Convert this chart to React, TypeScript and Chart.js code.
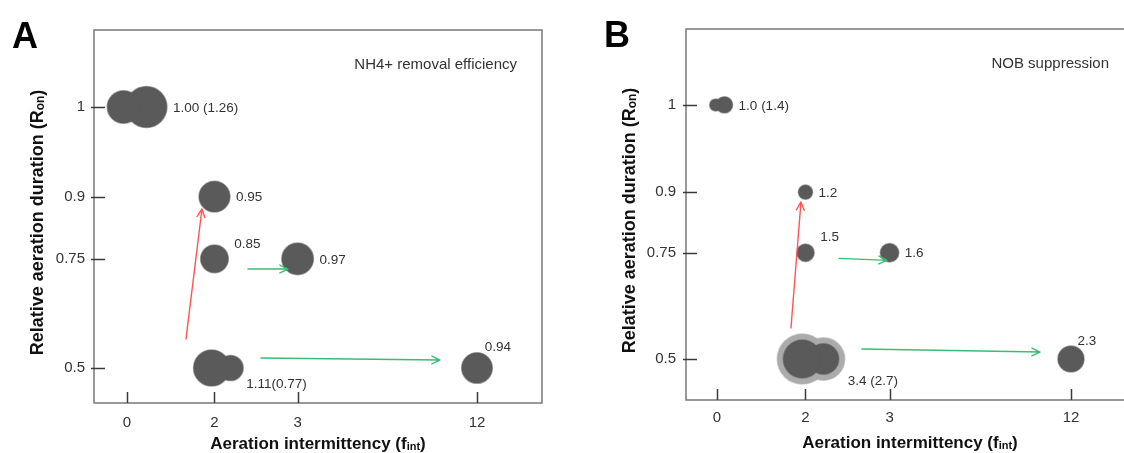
import React, { useEffect, useRef } from 'react';
import { Chart, registerables } from 'chart.js';

Chart.register(...registerables);

const FONT = "'Liberation Sans', Arial, Helvetica, sans-serif";
const CANVAS_H = 453;

// ---------------- data ----------------
const xTickLabels = ['0', '2', '3', '12'];
const yTickLabels = ['1', '0.9', '0.75', '0.5'];

// Panel A – NH4+ removal efficiency
const aIntermittency = [0, 2, 2, 3, 2, 12];
const aDuration = [1, 0.9, 0.75, 0.75, 0.5, 0.5];
const aEfficiency = [1.0, 0.95, 0.85, 0.97, 1.11, 0.94];
const aEfficiencyPaired: (number | null)[] = [1.26, null, null, null, 0.77, null];
const aValueLabels = ['1.00 (1.26)', '0.95', '0.85', '0.97', '1.11(0.77)', '0.94'];

// Panel B – NOB suppression
const bIntermittency = [0, 2, 2, 3, 2, 12];
const bDuration = [1, 0.9, 0.75, 0.75, 0.5, 0.5];
const bSuppression = [1.0, 1.2, 1.5, 1.6, 3.4, 2.3];
const bSuppressionPaired: (number | null)[] = [1.4, null, null, null, 2.7, null];
const bValueLabels = ['1.0 (1.4)', '1.2', '1.5', '1.6', '3.4 (2.7)', '2.3'];

// ---------------- axis layout (where each category sits on its axis) ----------------
const X_SLOT: Record<string, number> = { '0': 0, '2': 1, '3': 1.95, '12': 4 };
const Y_SLOT: Record<string, number> = { '1': 3, '0.9': 1.97, '0.75': 1.255, '0.5': 0 };

// ---------------- styles ----------------
const BUBBLE = '#5a5a5a';
const BUBBLE_EDGE = 'rgba(90,90,90,0.55)';
const HALO = '#ababab';
const HALO_W = 6;
const RED = '#ff5454';
const GREEN = '#3cbc72';
const FRAME = '#808080';
const TEXT = '#333333';

type Arrow = { from: [number, number]; to: [number, number]; color: string };

// annotation arrows, in axis units
const aArrows: Arrow[] = [
  { from: [0.674, 0.333], to: [0.857, 1.828], color: RED },
  { from: [1.383, 1.138], to: [1.84, 1.138], color: GREEN },
  { from: [1.531, 0.115], to: [3.577, 0.092], color: GREEN },
];
const bArrows: Arrow[] = [
  { from: [0.836, 0.366], to: [0.949, 1.854], color: RED },
  { from: [1.379, 1.188], to: [1.921, 1.165], color: GREEN },
  { from: [1.638, 0.118], to: [3.65, 0.082], color: GREEN },
];

interface PanelCfg {
  letter: string;
  note: string;
  xs: number[];
  ys: number[];
  vals: number[];
  paired: (number | null)[];
  labels: string[];
  placement: string[];
  halo: number[];
  radius: (v: number) => number;
  arrows: Arrow[];
  canvasW: number;
  area: { left: number; top: number; right: number; bottom: number };
  xRange: [number, number];
  yRange: [number, number];
  yTickPad: number;
  xTickPad: number;
  xTitleBase: number;
}

const panelA: PanelCfg = {
  letter: 'A',
  note: 'NH4+ removal efficiency',
  xs: aIntermittency,
  ys: aDuration,
  vals: aEfficiency,
  paired: aEfficiencyPaired,
  labels: aValueLabels,
  placement: ['right', 'right', 'upperRight', 'right', 'lowerRight', 'corner'],
  halo: [],
  radius: (v) => 16.3 * v,
  arrows: aArrows,
  canvasW: 562,
  area: { left: 94, top: 30, right: 542, bottom: 403 },
  xRange: [-0.377, 4.743],
  yRange: [-0.402, 3.885],
  yTickPad: 9,
  xTickPad: 11,
  xTitleBase: 46,
};

const panelB: PanelCfg = {
  letter: 'B',
  note: 'NOB suppression',
  xs: bIntermittency,
  ys: bDuration,
  vals: bSuppression,
  paired: bSuppressionPaired,
  labels: bValueLabels,
  placement: ['right', 'right', 'upperRight', 'right', 'lowerRight', 'corner'],
  halo: [4],
  radius: (v) => 5.42 * v + 0.58,
  arrows: bArrows,
  canvasW: 572,
  area: { left: 124, top: 29, right: 572, bottom: 400 },
  xRange: [-0.35, 4.712],
  yRange: [-0.484, 3.896],
  yTickPad: 10,
  xTickPad: 9,
  xTitleBase: 48,
};

type Run = { text: string; font: string; dy?: number };

function drawRuns(ctx: CanvasRenderingContext2D, runs: Run[], cx: number, baseline: number) {
  let total = 0;
  const widths = runs.map((r) => {
    ctx.font = r.font;
    const w = ctx.measureText(r.text).width;
    total += w;
    return w;
  });
  let x = cx - total / 2;
  ctx.textAlign = 'left';
  ctx.textBaseline = 'alphabetic';
  runs.forEach((r, i) => {
    ctx.font = r.font;
    ctx.fillText(r.text, x, baseline + (r.dy || 0));
    x += widths[i];
  });
}

function drawArrow(ctx: CanvasRenderingContext2D, x1: number, y1: number, x2: number, y2: number, color: string) {
  const ang = Math.atan2(y2 - y1, x2 - x1);
  const L = 9;
  const w = 0.45;
  ctx.save();
  ctx.strokeStyle = color;
  ctx.lineWidth = 1.4;
  ctx.lineCap = 'round';
  ctx.lineJoin = 'round';
  ctx.beginPath();
  ctx.moveTo(x1, y1);
  ctx.lineTo(x2, y2);
  ctx.moveTo(x2 - L * Math.cos(ang - w), y2 - L * Math.sin(ang - w));
  ctx.lineTo(x2, y2);
  ctx.lineTo(x2 - L * Math.cos(ang + w), y2 - L * Math.sin(ang + w));
  ctx.stroke();
  ctx.restore();
}

function buildConfig(cfg: PanelCfg): any {
  const primary: any[] = [];
  const secondary: any[] = [];
  const halo: any[] = [];
  const info: { sec: number; halo: boolean }[] = [];

  cfg.vals.forEach((v, i) => {
    const x = X_SLOT[String(cfg.xs[i])];
    const y = Y_SLOT[String(cfg.ys[i])];
    const r1 = cfg.radius(v);
    const alt = cfg.paired[i];
    let s1 = 0;
    let s2 = 0;
    let r2 = 0;
    let sec = -1;
    if (alt != null) {
      r2 = cfg.radius(alt);
      const d = 0.62 * (r1 + r2);
      s1 = -0.15 * d;
      s2 = 0.85 * d;
      sec = secondary.length;
      secondary.push({ x, y, r: r2, shift: s2 });
    }
    primary.push({ x, y, r: r1, shift: s1 });
    const hasHalo = cfg.halo.includes(i);
    if (hasHalo) {
      halo.push({ x, y, r: r1 + HALO_W, shift: s1 });
      if (alt != null) halo.push({ x, y, r: r2 + HALO_W, shift: s2 });
    }
    info.push({ sec, halo: hasHalo });
  });

  const a = cfg.area;

  const decor = {
    id: 'decor' + cfg.letter,
    afterDatasetsUpdate(chart: any) {
      chart.data.datasets.forEach((ds: any, k: number) => {
        const meta = chart.getDatasetMeta(k);
        meta.data.forEach((el: any, j: number) => {
          const s = ds.data[j] && ds.data[j].shift ? ds.data[j].shift : 0;
          el.x += s;
        });
      });
    },
    beforeDatasetsDraw(chart: any) {
      const { ctx, chartArea: ca, scales } = chart;
      ctx.save();
      ctx.strokeStyle = FRAME;
      ctx.lineWidth = 1.6;
      ctx.strokeRect(ca.left, ca.top, ca.right - ca.left, ca.bottom - ca.top);
      ctx.strokeStyle = '#3a3a3a';
      ctx.lineWidth = 1.5;
      yTickLabels.forEach((l) => {
        const y = Math.round(scales.y.getPixelForValue(Y_SLOT[l])) + 0.5;
        ctx.beginPath();
        ctx.moveTo(ca.left - 3, y);
        ctx.lineTo(ca.left + 11, y);
        ctx.stroke();
      });
      xTickLabels.forEach((l) => {
        const x = Math.round(scales.x.getPixelForValue(X_SLOT[l])) + 0.5;
        ctx.beginPath();
        ctx.moveTo(x, ca.bottom);
        ctx.lineTo(x, ca.bottom - 11);
        ctx.stroke();
      });
      ctx.restore();
    },
    afterDatasetsDraw(chart: any) {
      const { ctx, chartArea: ca, scales } = chart;
      ctx.save();
      // arrows
      cfg.arrows.forEach((ar) => {
        drawArrow(
          ctx,
          scales.x.getPixelForValue(ar.from[0]),
          scales.y.getPixelForValue(ar.from[1]),
          scales.x.getPixelForValue(ar.to[0]),
          scales.y.getPixelForValue(ar.to[1]),
          ar.color
        );
      });
      // value labels
      const m0 = chart.getDatasetMeta(0);
      const m1 = chart.getDatasetMeta(1);
      ctx.fillStyle = TEXT;
      ctx.font = `13.5px ${FONT}`;
      ctx.textAlign = 'left';
      ctx.textBaseline = 'middle';
      cfg.labels.forEach((text, i) => {
        const p = m0.data[i];
        const r1 = p.options.radius;
        const ext = info[i].halo ? HALO_W : 0;
        let right = p.x + r1 + ext;
        if (info[i].sec >= 0) {
          const s = m1.data[info[i].sec];
          right = Math.max(right, s.x + s.options.radius + ext);
        }
        let x = right + 6;
        let y = p.y + 1;
        switch (cfg.placement[i]) {
          case 'upperRight':
            x = p.x + r1 + 6;
            y = p.y - 15;
            break;
          case 'lowerRight':
            x = right + 3;
            y = p.y + 0.9 * (r1 + ext);
            break;
          case 'corner':
            x = p.x + 0.5 * r1;
            y = p.y - r1 - 5;
            break;
        }
        ctx.fillText(text, x, y);
      });
      // note
      ctx.font = `15px ${FONT}`;
      ctx.textAlign = 'right';
      ctx.fillText(cfg.note, ca.right - 25, ca.top + 35);
      // panel letter
      ctx.fillStyle = '#000';
      ctx.font = `bold 36px ${FONT}`;
      ctx.textAlign = 'left';
      ctx.textBaseline = 'alphabetic';
      ctx.fillText(cfg.letter, ca.left - 82, ca.top + 18);
      // axis titles
      ctx.fillStyle = '#111';
      drawRuns(
        ctx,
        [
          { text: 'Aeration intermittency (f', font: `bold 17px ${FONT}` },
          { text: 'int', font: `bold 11px ${FONT}`, dy: 1 },
          { text: ')', font: `bold 17px ${FONT}` },
        ],
        (ca.left + ca.right) / 2,
        ca.bottom + cfg.xTitleBase
      );
      ctx.save();
      ctx.translate(ca.left - 57, (ca.top + ca.bottom) / 2 + 6);
      ctx.rotate(-Math.PI / 2);
      drawRuns(
        ctx,
        [
          { text: 'Relative aeration duration (R', font: `bold 18px ${FONT}` },
          { text: 'on', font: `bold 12px ${FONT}`, dy: 1 },
          { text: ')', font: `bold 18px ${FONT}` },
        ],
        0,
        6
      );
      ctx.restore();
      ctx.restore();
    },
  };

  const bubbleStyle = {
    backgroundColor: BUBBLE,
    borderColor: BUBBLE_EDGE,
    borderWidth: 1.5,
    hoverRadius: 0,
    clip: false as any,
  };

  return {
    type: 'bubble',
    data: {
      datasets: [
        { label: 'value', data: primary, order: 0, ...bubbleStyle },
        { label: 'paired value', data: secondary, order: 1, ...bubbleStyle },
        {
          label: 'spread',
          data: halo,
          order: 2,
          backgroundColor: HALO,
          borderColor: 'rgba(171,171,171,0.6)',
          borderWidth: 1.5,
          hoverRadius: 0,
          clip: false,
        },
      ],
    },
    options: {
      animation: false,
      responsive: false,
      devicePixelRatio: 1,
      events: [],
      layout: {
        autoPadding: false,
        padding: { left: 0, top: a.top, right: cfg.canvasW - a.right, bottom: 0 },
      },
      plugins: {
        legend: { display: false },
        tooltip: { enabled: false },
      },
      scales: {
        x: {
          type: 'linear',
          position: 'bottom',
          min: cfg.xRange[0],
          max: cfg.xRange[1],
          bounds: 'data',
          grid: { display: false, drawTicks: false },
          border: { display: false },
          ticks: {
            autoSkip: false,
            maxRotation: 0,
            padding: cfg.xTickPad,
            color: TEXT,
            font: { family: FONT, size: 15 },
            callback: (_v: any, i: number) => xTickLabels[i],
          },
          afterBuildTicks: (s: any) => {
            s.ticks = xTickLabels.map((l) => ({ value: X_SLOT[l] }));
          },
          afterFit: (s: any) => {
            s.height = CANVAS_H - a.bottom;
          },
        },
        y: {
          type: 'linear',
          position: 'left',
          min: cfg.yRange[0],
          max: cfg.yRange[1],
          bounds: 'data',
          grid: { display: false, drawTicks: false },
          border: { display: false },
          ticks: {
            autoSkip: false,
            padding: cfg.yTickPad,
            color: TEXT,
            font: { family: FONT, size: 15 },
            callback: (_v: any, i: number) => yTickLabels[i],
          },
          afterBuildTicks: (s: any) => {
            s.ticks = yTickLabels.map((l) => ({ value: Y_SLOT[l] }));
          },
          afterFit: (s: any) => {
            s.width = a.left;
          },
        },
      },
    },
    plugins: [decor],
  };
}

function Panel({ cfg, left }: { cfg: PanelCfg; left: number }) {
  const ref = useRef<HTMLCanvasElement>(null);
  useEffect(() => {
    if (!ref.current) return;
    const chart = new Chart(ref.current, buildConfig(cfg));
    return () => chart.destroy();
  }, [cfg]);
  return (
    <canvas
      ref={ref}
      width={cfg.canvasW}
      height={CANVAS_H}
      style={{ position: 'absolute', left, top: 0, width: cfg.canvasW, height: CANVAS_H, display: 'block' }}
    />
  );
}

export default function App() {
  return (
    <div
      style={{
        position: 'absolute',
        left: 0,
        top: 0,
        width: 1124,
        height: CANVAS_H,
        overflow: 'hidden',
        background: '#ffffff',
      }}
    >
      <Panel cfg={panelA} left={0} />
      <Panel cfg={panelB} left={562} />
    </div>
  );
}
